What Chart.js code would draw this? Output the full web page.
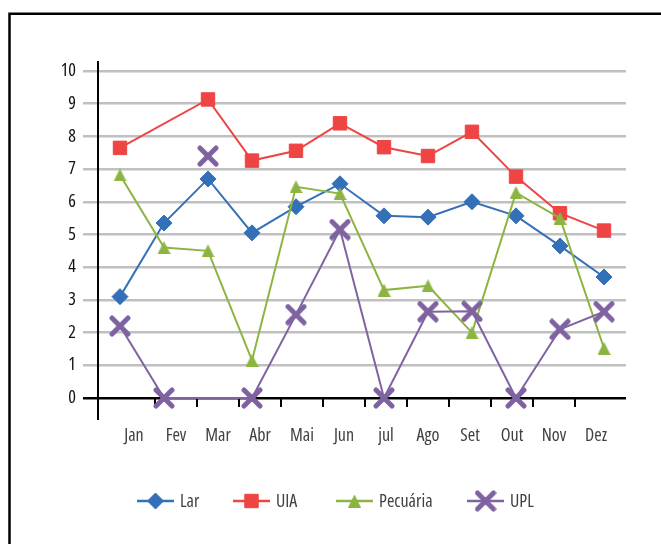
<!DOCTYPE html>
<html>
<head>
<meta charset="utf-8">
<script src="https://cdn.jsdelivr.net/npm/chart.js@4/dist/chart.umd.min.js"></script>
<style>
  html, body { margin: 0; padding: 0; background: #fff; }
  #wrap { width: 661px; height: 544px; }
</style>
</head>
<body>
<div id="wrap"><canvas id="c" width="661" height="544"></canvas></div>
<script>
// Monthly indices per sector
const months = ['Jan', 'Fev', 'Mar', 'Abr', 'Mai', 'Jun', 'jul', 'Ago', 'Set', 'Out', 'Nov', 'Dez'];
const lar = [3.1, 5.35, 6.7, 5.05, 5.85, 6.55, 5.57, 5.53, 6.0, 5.57, 4.65, 3.7];
const uia = [7.65, null, 9.13, 7.26, 7.56, 8.4, 7.67, 7.4, 8.14, 6.77, 5.65, 5.12];
const pecuaria = [6.82, 4.6, 4.5, 1.15, 6.46, 6.25, 3.3, 3.43, 2.0, 6.28, 5.5, 1.52];
const upl = [2.2, 0, null, 0, 2.55, 5.15, 0, 2.64, 2.65, 0, 2.1, 2.64];
const uplLone = [null, null, 7.4, null, null, null, null, null, null, null, null, null];
const yTicks = [0, 1, 2, 3, 4, 5, 6, 7, 8, 9, 10];

// Condensed Open Sans (the stretch keyword rides along in the weight slot)
const FAMILY = "'Open Sans', 'Liberation Sans', sans-serif";
const WEIGHT = '400 condensed';
const SIZE = 18;
const C_LAR = '#3470b7';
const C_UIA = '#ef4444';
const C_PEC = '#8bb440';
const C_UPL = '#7f63a1';

// Marker sprites: thick rounded cross and a tall triangle
function crossSprite(color, size, lw) {
  const c = document.createElement('canvas');
  c.width = size; c.height = size;
  const g = c.getContext('2d');
  g.strokeStyle = color; g.lineWidth = lw; g.lineCap = 'round';
  const p = lw / 2 + 0.5;
  g.beginPath();
  g.moveTo(p, p); g.lineTo(size - p, size - p);
  g.moveTo(size - p, p); g.lineTo(p, size - p);
  g.stroke();
  return c;
}
function triangleSprite(color, w, h) {
  const c = document.createElement('canvas');
  c.width = w; c.height = h;
  const g = c.getContext('2d');
  g.fillStyle = color;
  g.beginPath();
  g.moveTo(w / 2, 0); g.lineTo(w, h); g.lineTo(0, h); g.closePath();
  g.fill();
  return c;
}
const crossImg = crossSprite(C_UPL, 22, 5);
const triImg = triangleSprite(C_PEC, 13, 13);

const series = [
  { label: 'Lar', data: lar, color: C_LAR, style: 'rectRot', radius: 8, order: 4 },
  { label: 'UIA', data: uia, color: C_UIA, style: 'rect', radius: 9.5, order: 3 },
  { label: 'Pecuária', data: pecuaria, color: C_PEC, style: triImg, radius: 7, order: 2 },
  { label: 'UPL', data: upl, color: C_UPL, style: crossImg, radius: 10, order: 1 }
];

const datasets = series.map(s => ({
  label: s.label,
  data: s.data,
  borderColor: s.color,
  backgroundColor: s.color,
  borderWidth: 2,
  pointStyle: s.style,
  pointRadius: s.radius,
  pointHoverRadius: s.radius,
  pointBorderWidth: 1,
  pointBackgroundColor: s.color,
  pointBorderColor: s.color,
  tension: 0,
  spanGaps: true,
  clip: false,
  order: s.order
}));
datasets.push({
  label: 'UPL',
  data: uplLone,
  showLine: false,
  borderColor: C_UPL,
  backgroundColor: C_UPL,
  pointStyle: crossImg,
  pointRadius: 10,
  clip: false,
  order: 0
});

const decor = {
  id: 'decor',
  beforeDraw(chart) {
    const ctx = chart.ctx;
    ctx.save();
    ctx.fillStyle = '#fff';
    ctx.fillRect(0, 0, chart.width, chart.height);
    // outer frame
    ctx.strokeStyle = '#000';
    ctx.lineWidth = 2.5;
    ctx.beginPath();
    ctx.moveTo(9.5, chart.height + 2);
    ctx.lineTo(9.5, 13.75);
    ctx.lineTo(chart.width + 2, 13.75);
    ctx.stroke();
    ctx.restore();
  },
  beforeDatasetsDraw(chart) {
    const ctx = chart.ctx;
    const y = chart.scales.y;
    const x0 = chart.chartArea.left;
    ctx.save();
    ctx.strokeStyle = '#000';
    ctx.lineWidth = 2;
    ctx.beginPath();
    ctx.moveTo(x0, y.getPixelForValue(10) - 10);
    ctx.lineTo(x0, y.getPixelForValue(0) + 22);
    ctx.stroke();
    ctx.restore();
  },
  afterDraw(chart) {
    const ctx = chart.ctx;
    const starts = [137, 233, 336, 467];
    const ly = 501;
    ctx.save();
    series.forEach((s, i) => {
      const x = starts[i];
      ctx.strokeStyle = s.color;
      ctx.lineWidth = 2.5;
      ctx.beginPath();
      ctx.moveTo(x, ly); ctx.lineTo(x + 37, ly);
      ctx.stroke();
      ctx.fillStyle = s.color;
      ctx.strokeStyle = s.color;
      ctx.lineWidth = 1;
      Chart.helpers.drawPoint(ctx, { pointStyle: s.style, radius: s.radius, rotation: 0, borderWidth: 1 }, x + 18.5, ly);
      ctx.fillStyle = '#404040';
      ctx.font = 'normal ' + WEIGHT + ' ' + SIZE + 'px ' + FAMILY;
      ctx.textBaseline = 'middle';
      ctx.textAlign = 'left';
      ctx.fillText(s.label, x + 43, ly + 1);
    });
    ctx.restore();
  }
};

new Chart(document.getElementById('c'), {
  type: 'line',
  data: { labels: months, datasets },
  plugins: [decor],
  options: {
    responsive: false,
    animation: false,
    devicePixelRatio: 1,
    layout: { padding: { left: 0, top: 71, right: 35, bottom: 86 } },
    plugins: { legend: { display: false }, tooltip: { enabled: false } },
    events: [],
    scales: {
      x: { type: 'category', offset: true, display: false },
      x2: {
        type: 'linear',
        position: 'bottom',
        min: -15 / 42,
        max: 513 / 42,
        afterBuildTicks: s => { s.ticks = months.map((m, i) => ({ value: i + 0.5 })); },
        afterFit: s => { s.height = 60; },
        ticks: {
          autoSkip: false,
          maxRotation: 0,
          padding: 18,
          color: '#404040',
          font: { family: FAMILY, size: SIZE, weight: WEIGHT },
          callback: (v, i) => months[i]
        },
        grid: {
          offset: true,
          drawOnChartArea: false,
          drawTicks: true,
          tickLength: 9,
          lineWidth: 2,
          color: c => (c.type === 'tick' && c.index >= 1 && c.index <= 11) ? '#000' : 'rgba(0,0,0,0)'
        },
        border: { display: false }
      },
      y: {
        min: 0,
        max: 10,
        afterBuildTicks: s => { s.ticks = yTicks.map(v => ({ value: v })); },
        afterFit: s => { s.width = 98; },
        ticks: {
          padding: 7,
          color: '#111',
          font: { family: FAMILY, size: SIZE, weight: WEIGHT }
        },
        grid: {
          lineWidth: 2.5,
          tickLength: 15,
          color: c => (c.tick && c.tick.value === 0) ? '#000' : '#c0c0c0'
        },
        border: { display: false }
      }
    }
  }
});
</script>
</body>
</html>
